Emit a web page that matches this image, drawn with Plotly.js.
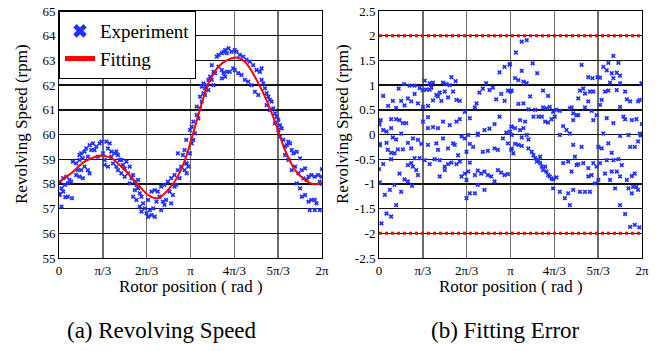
<!DOCTYPE html>
<html>
<head>
<meta charset="utf-8">
<script src="https://cdn.plot.ly/plotly-3.0.1.min.js"></script>
<style>
html,body{margin:0;padding:0;background:#fff;}
#chart{width:661px;height:351px;}
#chart text{font-family:'Liberation Serif', serif !important;}
</style>
</head>
<body>
<div id="chart"></div>
<script>
// ---- Data: (a) Revolving speed, experiment points ----
const expX = [0.02,0.10,0.18,0.25,0.06,0.14,0.21,0.29,0.02,0.10,0.15,0.21,0.31,0.06,0.33,0.41,0.49,0.57,0.45,0.53,0.61,0.69,0.73,0.41,0.49,0.57,0.49,0.53,0.61,0.65,0.73,0.81,0.77,0.85,0.89,0.97,1.01,0.69,0.93,1.05,1.09,1.13,1.21,1.17,1.25,1.09,1.17,1.25,1.33,1.37,1.41,1.45,1.29,1.37,1.41,1.49,1.53,1.57,1.61,1.65,1.57,1.49,1.69,1.73,1.81,1.77,1.85,1.89,1.69,1.81,1.89,1.93,1.97,1.77,1.85,2.01,2.05,2.09,2.13,1.93,1.97,2.17,2.21,2.25,2.29,2.13,2.21,2.29,2.36,2.44,2.52,2.60,2.68,2.76,2.84,2.92,2.33,2.40,2.48,2.56,2.44,2.52,2.64,2.72,2.80,2.84,2.96,3.00,3.04,2.68,2.76,2.88,3.00,3.04,0.00,
3.05,3.09,3.05,3.13,3.17,3.21,3.13,3.17,3.25,3.21,3.29,3.33,3.37,3.29,3.41,3.37,3.45,3.49,3.53,3.45,3.57,3.61,3.41,3.49,3.57,3.65,3.69,3.77,3.81,3.89,3.93,3.97,4.01,4.05,4.12,4.20,4.24,4.32,4.40,4.48,4.56,4.64,4.72,4.80,4.84,3.81,3.89,3.93,4.01,4.08,4.16,4.20,4.28,4.36,4.44,4.52,4.60,4.68,4.76,3.89,3.97,3.73,3.65,3.69,4.84,4.88,4.92,4.96,5.00,5.04,5.08,4.96,5.04,5.12,5.16,5.20,5.24,5.28,5.32,5.16,5.24,5.28,5.36,5.40,5.44,5.48,5.52,5.56,5.60,5.68,5.76,5.40,5.48,5.56,5.64,5.72,5.80,5.88,5.96,6.03,6.11,6.19,6.23,6.27,5.68,5.76,5.80,5.88,5.96,6.03,6.11,6.15,5.99,6.11,6.23,5.84,5.92,6.28,6.28];
const expY = [58.09,58.23,58.29,58.16,57.82,57.96,58.02,58.09,57.55,57.69,57.46,57.48,57.42,57.08,58.90,58.83,58.97,59.04,58.56,58.56,58.70,58.56,58.43,58.36,58.29,58.23,59.17,59.24,59.31,59.44,59.57,59.64,59.37,59.37,59.51,59.64,59.71,59.10,59.10,59.24,58.97,59.71,59.64,59.44,59.31,58.77,58.70,59.10,59.24,59.31,59.17,58.97,58.83,58.70,58.56,58.97,58.77,58.63,58.90,58.43,58.29,58.43,58.70,58.23,58.09,58.36,57.96,58.16,58.02,57.75,57.82,57.62,57.48,57.48,57.35,57.21,57.01,56.81,56.67,57.08,56.88,56.94,56.74,57.01,56.67,57.35,57.69,57.75,57.69,57.89,57.96,58.09,58.23,58.36,58.56,58.70,57.28,57.48,57.28,57.35,56.94,57.15,57.69,57.55,57.96,59.24,59.17,59.37,59.78,57.21,57.89,58.23,58.56,58.83,57.60,
58.83,58.70,58.43,59.24,59.64,59.78,60.18,60.32,60.05,60.52,60.79,60.65,61.06,61.13,61.33,61.53,61.67,61.87,62.00,62.07,62.21,62.34,61.94,61.60,61.80,62.81,62.54,63.15,63.22,63.29,63.35,63.42,63.29,63.49,63.35,63.42,63.35,63.22,63.15,63.02,62.95,62.81,62.61,62.54,62.68,62.75,62.61,62.48,62.54,62.54,62.68,62.61,62.48,62.41,62.21,62.14,62.00,61.73,61.60,62.27,62.34,62.48,62.21,62.00,62.21,62.07,61.87,61.67,61.53,61.40,61.33,61.19,60.99,61.06,60.86,60.72,60.59,60.38,60.25,60.45,60.18,59.91,59.78,59.51,59.57,59.71,59.64,59.37,59.24,59.30,59.03,59.17,58.97,58.56,58.70,58.43,58.56,58.63,58.29,58.36,58.29,58.36,58.09,58.29,58.02,57.82,57.48,57.55,57.28,57.35,57.35,57.21,56.94,56.94,56.94,58.22,58.16,58.60,58.00];

// ---- Data: (a) fitted curve ----
const fitX = [0.00,0.29,0.61,0.93,1.05,1.25,1.57,1.89,2.13,2.29,2.40,2.60,2.76,2.92,3.05,3.25,3.41,3.57,3.81,4.05,4.24,4.44,4.68,4.92,5.16,5.40,5.64,5.88,6.08,6.28];
const fitY = [58.07,58.43,58.90,59.13,59.14,59.04,58.56,57.96,57.55,57.42,57.44,57.75,58.09,58.59,59.17,60.32,61.26,62.07,62.75,63.04,63.12,62.95,62.34,61.53,60.52,59.37,58.56,58.16,57.99,58.05];

// ---- Data: (b) fitting error points ----
const errX = [2.88,3.00,3.12,1.73,1.83,1.09,1.21,1.29,1.25,0.60,0.73,0.85,0.97,1.05,1.13,1.21,0.47,0.10,0.33,0.22,0.41,0.53,0.61,0.69,0.77,0.85,0.93,1.05,1.17,1.29,1.37,1.45,1.53,1.61,1.69,1.57,1.65,1.77,1.85,1.93,1.49,1.41,2.05,2.17,2.29,2.33,2.40,2.48,2.56,2.64,2.72,2.80,2.92,3.00,3.08,3.14,2.36,2.52,2.64,2.76,2.88,3.04,3.16,
0.04,0.10,0.18,0.29,0.29,0.41,0.49,0.57,0.65,0.53,0.33,0.41,0.18,0.02,0.21,0.29,0.37,0.45,0.57,0.69,0.77,0.81,0.93,1.01,1.05,1.17,1.17,1.29,1.41,1.53,1.69,1.85,1.93,1.17,1.37,1.53,1.41,1.65,1.77,1.81,1.97,2.05,2.13,2.17,2.25,2.09,2.36,2.48,2.60,2.76,2.84,2.96,3.08,3.16,
0.10,0.29,0.77,0.69,0.81,0.89,0.93,0.85,0.97,1.09,1.21,1.33,1.45,1.57,1.65,1.73,1.85,1.93,1.45,1.57,1.89,1.97,2.05,2.09,2.13,2.17,2.29,2.36,2.44,2.52,2.60,2.68,2.76,2.84,2.92,3.00,3.08,2.17,2.29,2.52,2.36,2.09,0.02,0.14,0.26,0.37,0.53,0.49,0.61,0.69,0.79,0.41,0.06,0.18,0.29,0.01,0.01,0.00,0.00,0.02,
3.41,3.53,3.27,5.60,5.48,5.36,5.72,5.44,5.56,5.68,5.76,4.84,5.28,5.60,5.52,5.76,5.00,5.10,5.22,6.27,3.67,3.41,3.78,3.25,3.33,3.45,3.53,3.13,
3.17,3.92,4.04,3.61,3.33,3.45,4.80,4.88,4.92,4.76,5.00,5.04,5.12,5.32,5.40,5.48,5.68,5.88,5.92,6.00,6.19,6.23,4.92,5.28,5.20,5.12,4.72,4.64,4.60,4.56,
3.57,3.73,3.92,4.00,4.08,4.16,4.24,4.32,3.69,3.81,3.89,3.97,4.04,4.12,4.20,3.37,3.49,3.17,3.25,3.37,3.45,3.41,3.53,3.57,3.13,3.17,3.25,3.33,3.41,3.17,3.21,3.57,3.65,3.69,3.73,3.77,3.85,3.89,3.92,4.00,4.04,4.08,4.12,4.16,4.24,3.97,3.81,3.85,
4.32,4.40,4.48,4.56,4.64,4.84,5.36,5.24,5.32,5.48,5.56,5.76,5.88,5.96,6.00,6.04,6.11,6.15,6.19,6.23,6.27,5.44,5.60,5.76,5.84,5.08,4.64,4.76,
4.16,4.32,4.44,4.52,4.56,4.64,4.80,4.92,5.04,5.16,5.24,5.08,5.00,5.12,5.20,4.88,4.76,4.68,4.60,4.40,4.52,4.72,5.00,5.28,5.40,5.52,5.56,5.68,5.44,5.60,5.72,5.80,5.92,5.96,6.04,6.07,6.15,6.19,5.76,5.76,5.88,6.00,6.11,6.22,6.04,6.11,5.64,6.28,6.28,6.28,6.25];
const errY = [1.26,1.37,1.41,1.16,1.08,1.09,1.04,1.05,0.95,1.02,0.99,0.99,0.94,0.90,0.91,0.91,0.93,0.78,0.68,0.58,0.54,0.68,0.59,0.73,0.67,0.82,0.63,0.56,0.58,0.69,0.80,0.85,1.05,1.02,1.00,0.87,0.75,0.87,0.70,0.68,0.68,0.77,0.46,0.33,0.55,0.63,0.85,0.93,1.04,0.90,0.95,0.71,0.82,0.68,0.89,0.87,0.02,0.09,0.12,0.21,0.36,0.04,0.16,
0.29,0.09,0.06,0.31,0.13,0.31,0.29,0.23,0.23,0.02,-0.06,-0.10,-0.17,-0.19,-0.31,-0.37,-0.38,-0.30,-0.30,-0.17,-0.28,-0.08,-0.11,-0.19,0.26,0.35,0.13,0.15,0.13,0.26,0.19,0.26,0.31,-0.21,-0.18,-0.08,-0.31,-0.28,-0.18,-0.21,-0.04,-0.08,-0.01,-0.19,-0.25,-0.35,-0.01,-0.35,-0.33,-0.28,-0.31,-0.08,-0.18,-0.31,
-0.60,-0.50,-0.58,-0.62,-0.65,-0.72,-0.82,-0.48,-0.48,-0.52,-0.60,-0.50,-0.52,-0.65,-0.60,-0.57,-0.60,-0.55,-0.85,-0.72,-0.42,-0.85,-0.79,-0.92,-0.75,-0.57,-0.82,-0.73,-0.79,-0.75,-0.82,-0.85,-0.95,-0.72,-0.77,-0.82,-0.80,-1.19,-1.19,-1.12,-1.02,-1.29,-0.97,-1.22,-1.12,-1.02,-1.16,-0.79,-0.91,-0.95,-1.04,-1.43,-1.80,-1.60,-1.66,0.25,0.20,-0.70,-0.98,-0.22,
1.88,1.91,1.66,1.59,1.45,1.37,1.45,1.30,1.24,1.25,1.19,1.41,1.15,1.14,1.05,1.04,1.16,1.14,1.16,1.04,1.44,1.29,1.24,1.14,1.10,1.07,1.04,1.43,
0.89,0.89,0.78,0.77,0.62,0.63,0.89,0.93,0.83,0.73,0.67,0.87,0.87,0.70,0.87,0.89,0.90,0.87,0.71,0.67,0.67,0.70,0.55,0.60,0.39,0.29,0.39,0.29,0.55,0.53,
0.51,0.50,0.55,0.53,0.56,0.46,0.50,0.48,0.36,0.36,0.36,0.26,0.24,0.31,0.36,0.29,0.26,0.16,0.13,0.09,0.13,-0.06,-0.01,-0.10,0.06,-0.01,-0.19,-0.21,-0.23,-0.28,-0.38,-0.28,-0.35,-0.42,-0.48,-0.55,-0.58,-0.65,-0.72,-0.75,-0.82,-0.85,-0.89,-0.91,-0.87,-0.65,-0.52,-0.45,
-0.01,0.17,0.09,0.02,-0.21,-0.25,0.02,-0.25,-0.28,-0.18,-0.37,-0.03,0.31,-0.01,-0.25,0.29,-0.25,0.31,-0.14,0.02,-0.01,0.33,0.23,0.56,0.36,0.48,0.43,0.39,
-1.09,-1.16,-1.29,-1.19,-1.43,-1.12,-1.16,-1.16,-1.16,-0.99,-0.92,-0.82,-0.68,-0.58,-0.65,-0.58,-0.60,-0.45,-0.75,-0.58,-0.55,-0.62,-0.85,-0.58,-0.79,-0.92,-0.75,-0.75,-0.52,-0.52,-0.50,-0.62,-0.92,-1.09,-1.19,-1.06,-1.06,-1.12,-0.85,-1.43,-1.61,-1.87,-1.83,-1.88,-0.84,-0.79,-1.09,1.03,0.00,0.21,-0.02];

// ---- Data: (b) error limits ----
const limitX = [0, 6.2832];
const limitUpper = [2, 2];
const limitLower = [-2, -2];

// ---- Tick labels ----
const xTickVals = [0, 1.0472, 2.0944, 3.1416, 4.1888, 5.2360, 6.2832];
const xTickText = ['0', 'π/3', '2π/3', 'π', '4π/3', '5π/3', '2π'];
const yTickValsA = [55,56,57,58,59,60,61,62,63,64,65];
const yTickValsB = [-2.5,-2,-1.5,-1,-0.5,0,0.5,1,1.5,2,2.5];
const yTickTextB = ['-2.5','-2','-1.5','-1','-0.5','0','0.5','1','1.5','2','2.5'];

const FONTFAM = 'Liberation Serif';
const BLUE = '#2030ff';
const RED = '#ff0000';

const traces = [
  {x: expX, y: expY, type: 'scatter', mode: 'markers', name: 'Experiment',
   marker: {symbol: 'x', size: 4.2, color: BLUE}, xaxis: 'x', yaxis: 'y'},
  {x: fitX, y: fitY, type: 'scatter', mode: 'lines', name: 'Fitting',
   line: {color: RED, width: 2, shape: 'spline', smoothing: 1}, xaxis: 'x', yaxis: 'y'},
  {x: limitX, y: limitUpper, type: 'scatter', mode: 'lines', showlegend: false,
   line: {color: RED, width: 3, dash: 'dot'}, xaxis: 'x2', yaxis: 'y2'},
  {x: limitX, y: limitLower, type: 'scatter', mode: 'lines', showlegend: false,
   line: {color: RED, width: 3, dash: 'dot'}, xaxis: 'x2', yaxis: 'y2'},
  {x: errX, y: errY, type: 'scatter', mode: 'markers', showlegend: false,
   marker: {symbol: 'x', size: 4.2, color: BLUE}, xaxis: 'x2', yaxis: 'y2'}
];

const PW = 661, PH = 351;
const yDom = [1 - 258 / PH, 1 - 11 / PH];
const xAx = (dom) => ({
  domain: dom, range: [0, 6.2832], tickvals: xTickVals, ticktext: xTickText,
  showgrid: true, gridcolor: '#6b6b6b', gridwidth: 1.4, zeroline: false,
  showline: true, linecolor: '#000', linewidth: 1, mirror: true, ticks: '',
  tickfont: {family: FONTFAM, size: 13}
});
const yAx = (range, vals, text) => ({
  domain: yDom, range: range, tickvals: vals, ticktext: text,
  showgrid: true, gridcolor: '#111', gridwidth: 1.4, zeroline: false,
  showline: true, linecolor: '#000', linewidth: 1, mirror: true, ticks: '',
  tickfont: {family: FONTFAM, size: 13}
});

const ann = (text, x, y, size, angle) => ({
  text: text, xref: 'paper', yref: 'paper', x: x / PW, y: 1 - y / PH,
  xanchor: 'center', yanchor: 'middle', showarrow: false, textangle: angle || 0,
  font: {family: FONTFAM, size: size}
});

const layout = {
  width: PW, height: PH,
  margin: {l: 0, r: 0, t: 0, b: 0},
  paper_bgcolor: '#fff', plot_bgcolor: '#fff',
  font: {family: FONTFAM, color: '#000'},
  xaxis: xAx([59 / PW, 322 / PW]),
  yaxis: yAx([55, 65], yTickValsA, yTickValsA.map(String)),
  xaxis2: Object.assign(xAx([379 / PW, 642 / PW]), {anchor: 'y2'}),
  yaxis2: Object.assign(yAx([-2.5, 2.5], yTickValsB, yTickTextB), {anchor: 'x2'}),
  showlegend: true,
  legend: {
    x: 59 / PW, y: 1 - 11 / PH, xanchor: 'left', yanchor: 'top',
    bgcolor: '#fff', bordercolor: '#000', borderwidth: 1,
    font: {family: FONTFAM, size: 19},
    itemsizing: 'constant', tracegroupgap: 0
  },
  annotations: [
    ann('Revolving Speed (rpm)', 22, 124, 17, -90),
    ann('Revolving Speed (rpm)', 343, 124, 17, -90),
    ann('Rotor position ( rad )', 190.5, 286, 17),
    ann('Rotor position ( rad )', 510.5, 286, 17),
    ann('(a) Revolving Speed', 162, 330, 23),
    ann('(b) Fitting Error', 505, 330, 23)
  ]
};

Plotly.newPlot('chart', traces, layout, {displayModeBar: false, staticPlot: true});
</script>
</body>
</html>
